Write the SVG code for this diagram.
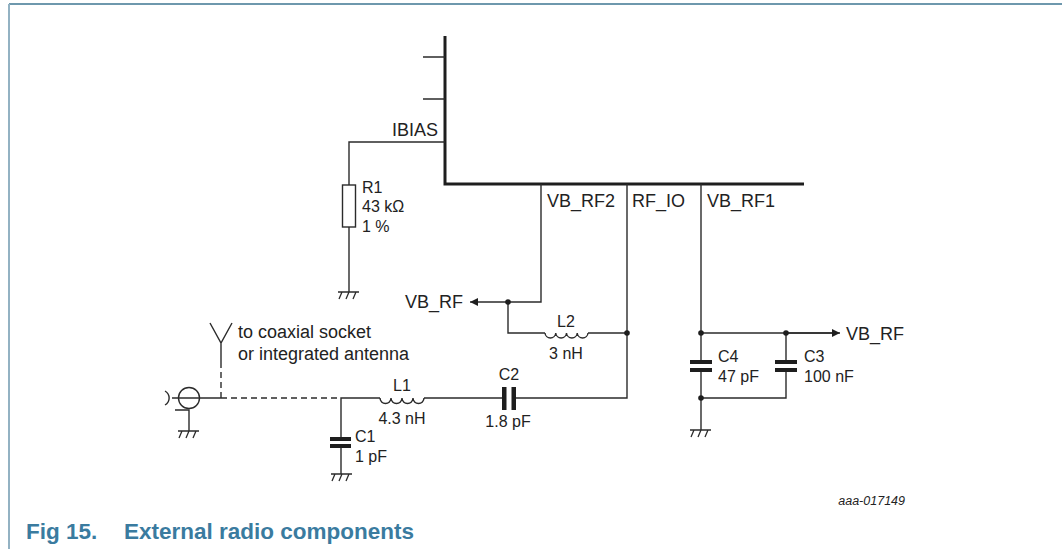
<svg xmlns="http://www.w3.org/2000/svg" width="1062" height="549" viewBox="0 0 1062 549">
<style>
.w{fill:none;stroke:#2b2b2b;stroke-width:1.4}
.bus{fill:none;stroke:#1e1e1e;stroke-width:3}
.d{fill:none;stroke:#2b2b2b;stroke-width:1.4;stroke-dasharray:6,4}
.p{fill:#1e1e1e}
text{font-family:"Liberation Sans",Arial,sans-serif;fill:#222}
.pin{font-size:18px}
.cl{font-size:16px}
.m{text-anchor:middle}
.e{text-anchor:end}
.cap{font-size:22.5px;font-weight:bold;fill:#3a7b9f}
</style>
<defs>
<g id="gnd"><path d="M-10,0H11M-6,0L-9,7M1,0L-2,7M8,0L5,7" fill="none" stroke="#2b2b2b" stroke-width="1.3"/></g>
<marker id="ar" viewBox="0 0 10 10" refX="10" refY="5" markerWidth="8" markerHeight="8" markerUnits="userSpaceOnUse" orient="auto"><path d="M0,0L10,5L0,10Z" fill="#1e1e1e"/></marker>
</defs>
<rect width="1062" height="549" fill="#fff"/>
<g id="frame">
<line x1="9" y1="4" x2="1062" y2="4" stroke="#6e98ad" stroke-width="2"/>
<line x1="9" y1="4" x2="9" y2="549" stroke="#93b2c3" stroke-width="2"/>
</g>
<g id="ic">
<path class="bus" d="M445,36V184H804"/>
<path class="w" d="M423,57H445M423,99H445"/>
<text class="pin e" x="438" y="136">IBIAS</text>
<text class="pin" x="547" y="207">VB_RF2</text>
<text class="pin" x="632" y="207">RF_IO</text>
<text class="pin" x="707" y="207">VB_RF1</text>
</g>
<g id="connectors">
<path class="w" d="M445,142H349V185M349,227V292"/>
<path class="w" d="M541,184V302H478"/>
<path class="w" d="M508,302V333H545M588,333H627"/>
<path class="w" d="M627,184V398H516M502,398H424M380,398H341V437M341,448V474"/>
<path class="w" d="M172,398H221"/>
<path class="d" d="M221,398H341M221,362V398"/>
<path class="w" d="M701,184V360M701,372V430M701,333H832M786,333V360M786,372V398H701"/>
<path class="w" d="M478,302H470" marker-end="url(#ar)"/>
<path class="w" d="M786,333H840" marker-end="url(#ar)"/>
<circle class="p" cx="508" cy="302" r="2.8"/>
<circle class="p" cx="627" cy="333" r="2.8"/>
<circle class="p" cx="701" cy="333" r="2.8"/>
<circle class="p" cx="786" cy="333" r="2.8"/>
<circle class="p" cx="701" cy="398" r="2.8"/>
</g>
<g id="R1">
<rect x="342.5" y="185" width="13" height="42" fill="#fff" stroke="#2b2b2b" stroke-width="1.4"/>
<use href="#gnd" x="348" y="292"/>
<text class="cl" x="362" y="193">R1</text>
<text class="cl" x="362" y="212">43 kΩ</text>
<text class="cl" x="362" y="232">1 %</text>
</g>
<g id="vbrf-left"><text class="pin e" x="463" y="308">VB_RF</text></g>
<g id="L2">
<path class="w" d="M545,333a5.4,5.5 0 0 0 10.75,0a5.4,5.5 0 0 0 10.75,0a5.4,5.5 0 0 0 10.75,0a5.4,5.5 0 0 0 10.75,0"/>
<text class="cl m" x="566" y="327">L2</text>
<text class="cl m" x="566" y="359">3 nH</text>
</g>
<g id="L1">
<path class="w" d="M380,398a5.5,5.5 0 0 0 11,0a5.5,5.5 0 0 0 11,0a5.5,5.5 0 0 0 11,0a5.5,5.5 0 0 0 11,0"/>
<text class="cl m" x="402" y="391">L1</text>
<text class="cl m" x="402" y="424">4.3 nH</text>
</g>
<g id="C2">
<rect class="p" x="502" y="387" width="4.5" height="23"/>
<rect class="p" x="511.5" y="387" width="4.5" height="23"/>
<text class="cl m" x="509" y="380">C2</text>
<text class="cl m" x="508" y="427">1.8 pF</text>
</g>
<g id="C1">
<rect class="p" x="330" y="437" width="21" height="4"/>
<rect class="p" x="330" y="444" width="21" height="4"/>
<use href="#gnd" x="341" y="474"/>
<text class="cl" x="355" y="442">C1</text>
<text class="cl" x="355" y="462">1 pF</text>
</g>
<g id="coax">
<circle cx="189" cy="398" r="10.5" fill="none" stroke="#2b2b2b" stroke-width="1.4"/>
<path class="w" d="M165,391a8,8 0 0 1 0,14"/>
<path class="w" d="M175,410H189V431"/>
<use href="#gnd" x="188" y="431"/>
</g>
<g id="antenna">
<path class="w" d="M210,323L221,343L232,323M221,343V362"/>
<text class="pin" x="238" y="338">to coaxial socket</text>
<text class="pin" x="238" y="360">or integrated antenna</text>
</g>
<g id="C4">
<rect class="p" x="690" y="360" width="22" height="4"/>
<rect class="p" x="690" y="368" width="22" height="4"/>
<use href="#gnd" x="700" y="430"/>
<text class="cl" x="718" y="362">C4</text>
<text class="cl" x="718" y="382">47 pF</text>
</g>
<g id="C3">
<rect class="p" x="775" y="360" width="22" height="4"/>
<rect class="p" x="775" y="368" width="22" height="4"/>
<text class="cl" x="804" y="362">C3</text>
<text class="cl" x="804" y="382">100 nF</text>
</g>
<g id="vbrf-right"><text class="pin" x="846" y="340">VB_RF</text></g>
<text x="905" y="505" font-size="12.5" font-style="italic" text-anchor="end">aaa-017149</text>
<g id="caption">
<text class="cap" x="26" y="539">Fig 15.</text>
<text class="cap" x="124" y="539">External radio components</text>
</g>
</svg>
